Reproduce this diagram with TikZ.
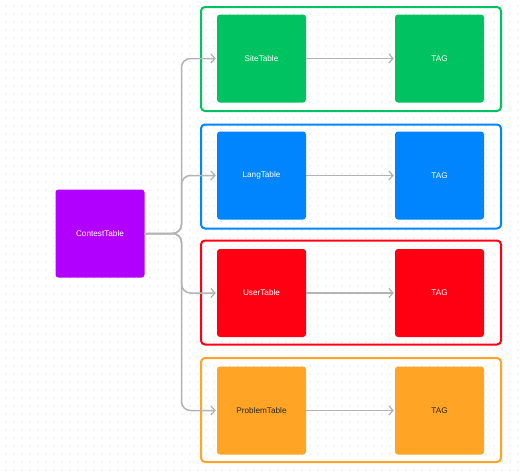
\documentclass[tikz,border=0pt]{standalone}
\usepackage{fontspec}
\setmainfont{Liberation Sans}
\usetikzlibrary{arrows.meta}
\definecolor{cgreen}{RGB}{0,194,96}
\definecolor{cblue}{RGB}{0,133,255}
\definecolor{cred}{RGB}{255,0,19}
\definecolor{cpurple}{RGB}{178,0,255}
\definecolor{corange}{RGB}{255,164,36}
\definecolor{cline}{RGB}{180,180,180}
\definecolor{cdot}{RGB}{205,205,205}
\tikzset{
  tbl/.style={rounded corners=3pt, minimum width=89pt, minimum height=88pt, inner sep=0pt, text=white, font=\fontsize{8.2}{10}\selectfont},
  grp/.style={draw, line width=2pt, rounded corners=4pt, minimum width=300pt, minimum height=104pt, inner sep=0pt},
  conn/.style={draw=cline, line width=1.5pt, -{Straight Barb[length=4pt,width=9pt,line width=1.3pt]}},
}
\begin{document}
\begin{tikzpicture}[x=1pt,y=-1pt]
\useasboundingbox (0,0) rectangle (523,471);
\fill[white] (0,0) rectangle (523,471);
\foreach \i in {0,...,65}{\foreach \j in {0,...,58}{\fill[cdot] (6+8*\i,6+8*\j) circle (0.55pt);}}
% group frames
\node[grp, draw=cgreen]  (g1) at (351,59) {};
\node[grp, draw=cblue]   (g2) at (351,176.5) {};
\node[grp, draw=cred]    (g3) at (351,292.5) {};
\node[grp, draw=corange] (g4) at (351,410) {};
% tables
\node[tbl, fill=cpurple] (ct) at (100,233.5) {ContestTable};
\node[tbl, fill=cgreen]  (st) at (261.5,58.5) {SiteTable};
\node[tbl, fill=cgreen]  (t1) at (439.5,58.5) {TAG};
\node[tbl, fill=cblue]   (lt) at (261.5,175.5) {LangTable};
\node[tbl, fill=cblue]   (t2) at (439.5,175.5) {TAG};
\node[tbl, fill=cred]    (ut) at (261.5,293) {UserTable};
\node[tbl, fill=cred]    (t3) at (439.5,293) {TAG};
\node[tbl, fill=corange, text=black!85] (pt) at (261.5,410.5) {ProblemTable};
\node[tbl, fill=corange, text=black!85] (t4) at (439.5,410.5) {TAG};
% connectors
\coordinate (j) at (181.5,233.5);
\foreach \b in {st,lt,ut,pt}{
  \draw[conn, rounded corners=9pt] (ct.east) -- (j) |- ([xshift=-1pt]\b.west);
}
\draw[conn] (st) -- ([xshift=-1pt]t1.west);
\draw[conn] (lt) -- ([xshift=-1pt]t2.west);
\draw[conn] (ut) -- ([xshift=-1pt]t3.west);
\draw[conn] (pt) -- ([xshift=-1pt]t4.west);
\end{tikzpicture}
\end{document}
